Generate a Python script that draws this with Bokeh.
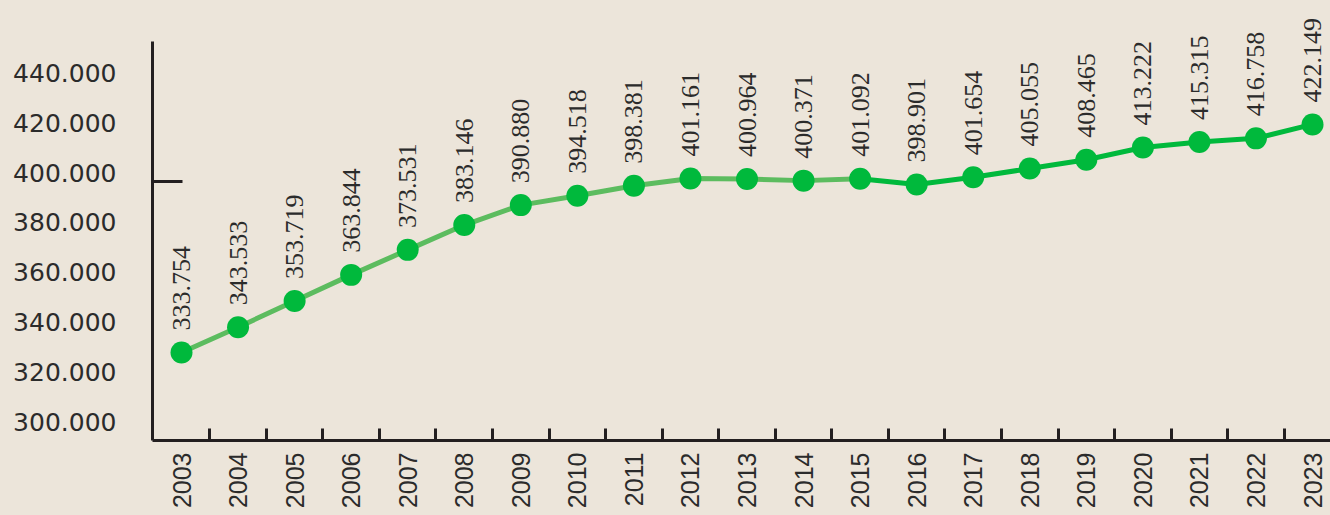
import math
from bokeh.plotting import figure
from bokeh.models import Range1d, LinearAxis, FixedTicker, LabelSet, ColumnDataSource
from bokeh.embed import file_html
from bokeh.resources import INLINE

# ---- data ----
years = list(range(2003, 2024))
values = [333.754, 343.533, 353.719, 363.844, 373.531, 383.146, 390.880,
          394.518, 398.381, 401.161, 400.964, 400.371, 401.092, 398.901,
          401.654, 405.055, 408.465, 413.222, 415.315, 416.758, 422.149]
value_labels = ["333.754", "343.533", "353.719", "363.844", "373.531",
                "383.146", "390.880", "394.518", "398.381", "401.161",
                "400.964", "400.371", "401.092", "398.901", "401.654",
                "405.055", "408.465", "413.222", "415.315", "416.758",
                "422.149"]
year_labels = [str(y) for y in years]
y_tick_values = [300, 320, 340, 360, 380, 400, 420, 440]
y_tick_labels = ["300.000", "320.000", "340.000", "360.000", "380.000",
                 "400.000", "420.000", "440.000"]
marked_value = [400]
split_index = 12  # colour changes at 2015

BG = "#ece5da"
TXT = "#2b2b2b"
AX = "#231f20"
LIGHT = "#5cbc5f"
DARK = "#00b93c"

Y0, Y1 = 299.64, 454.3          # extent of the drawn value axis
p = figure(width=1330, height=515, output_backend="svg", toolbar_location=None,
           x_range=Range1d(2002.487, 2023.318), y_range=Range1d(Y0, 470.19),
           min_border_left=152, min_border_top=0, min_border_right=0,
           min_border_bottom=75, background_fill_color=BG,
           border_fill_color=BG, outline_line_color=None)
p.grid.visible = False

# x axis
xa = p.xaxis[0]
xa.ticker = FixedTicker(ticks=years, minor_ticks=[y + 0.5 for y in years[:-1]])
xa.major_label_overrides = {y: s for y, s in zip(years, year_labels)}
xa.major_label_orientation = math.pi / 2
xa.major_label_text_font = "Liberation Sans"
xa.major_label_text_font_size = "25px"
xa.major_label_text_color = TXT
xa.major_label_standoff = 12
xa.major_tick_in = 0
xa.major_tick_out = 0
xa.minor_tick_in = 12
xa.minor_tick_out = 0
xa.minor_tick_line_width = 3
xa.minor_tick_line_color = AX
xa.axis_line_width = 3
xa.axis_line_color = AX

# main y axis (line + single tick at 400)
ya = p.yaxis[0]
ya.ticker = FixedTicker(ticks=[], minor_ticks=marked_value)
ya.bounds = (Y0, Y1)
ya.major_label_standoff = 0
ya.major_tick_in = 0
ya.major_tick_out = 0
ya.minor_tick_in = 30
ya.minor_tick_out = 0
ya.minor_tick_line_width = 3
ya.minor_tick_line_color = AX
ya.axis_line_width = 3
ya.axis_line_color = AX

# label axis (as drawn in reference, on its own scale)
p.extra_y_ranges = {"lbl": Range1d(292.49, 469.10)}
la = LinearAxis(y_range_name="lbl", ticker=FixedTicker(ticks=y_tick_values))
la.major_label_overrides = {v: s for v, s in zip(y_tick_values, y_tick_labels)}
la.major_label_text_font = "DejaVu Sans"
la.major_label_text_font_size = "25px"
la.major_label_text_color = TXT
la.major_label_standoff = 30
la.axis_line_color = None
la.major_tick_line_color = None
la.minor_tick_line_color = None
p.add_layout(la, "left")

# lines
p.line(years[:split_index + 1], values[:split_index + 1], line_color=LIGHT, line_width=5)
p.line(years[split_index:], values[split_index:], line_color=DARK, line_width=5)
p.scatter(years, values, size=22, fill_color=DARK, line_color=None)

src = ColumnDataSource(dict(x=years, y=values, t=value_labels))
labels = LabelSet(x="x", y="y", text="t", source=src, angle=math.pi / 2,
                  text_align="left", text_baseline="middle", y_offset=22,
                  text_font="Liberation Sans", text_font_size="26px",
                  text_color=TXT)
p.add_layout(labels)

html = file_html(p, INLINE)
html = html.replace("<body>", "<body style=\"background:%s\">" % BG)
open("out.html", "w").write(html)
